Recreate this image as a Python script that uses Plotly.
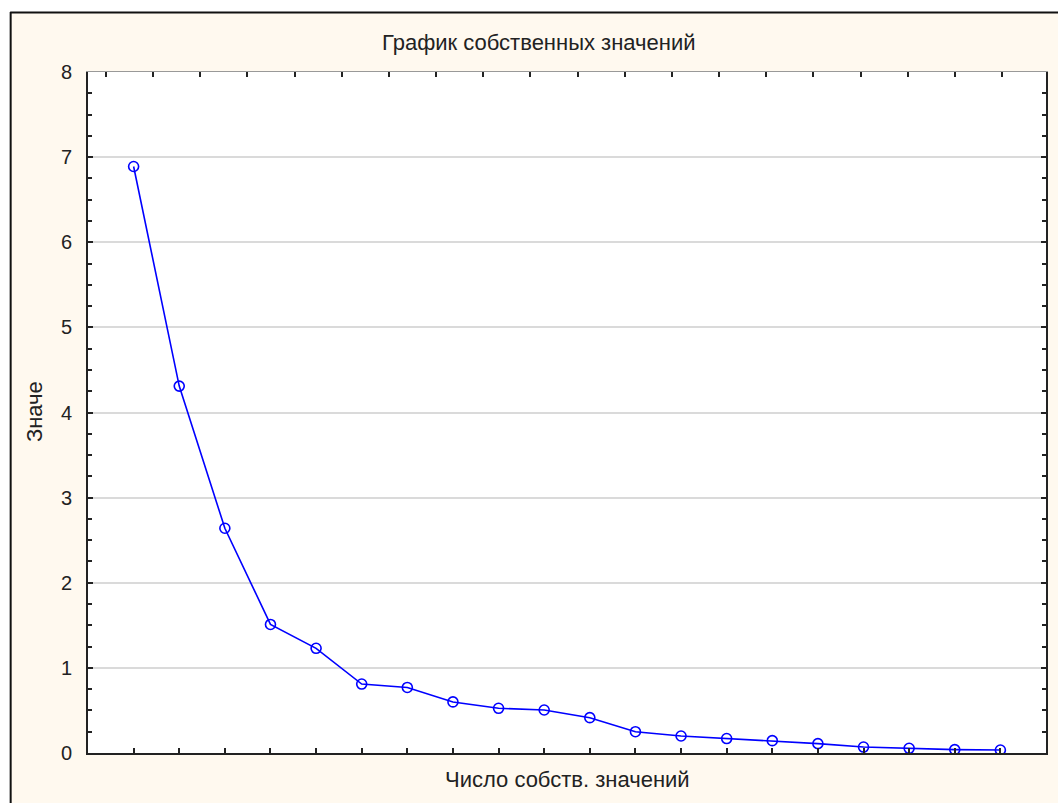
import plotly.graph_objects as go

# ---- data ----
components = list(range(1, 21))
eigenvalues = [6.89, 4.31, 2.64, 1.51, 1.23, 0.81, 0.77, 0.60, 0.525, 0.505,
               0.415, 0.25, 0.20, 0.17, 0.145, 0.11, 0.07, 0.055, 0.04, 0.035]
y_ticks = [0, 1, 2, 3, 4, 5, 6, 7, 8]
title_text = "График собственных значений"
x_title = "Число собств. значений"
y_title = "Значе"

W, H = 1058, 803
L, R, T, B = 88, 1048, 72, 753
FONT = "Liberation Sans, Arial, sans-serif"
CREAM = "#FFF9EF"


def px(p):
    return (p - L) / (R - L)


def py(p):
    return (B - p) / (B - T)


fig = go.Figure()
fig.add_trace(go.Scatter(
    x=components, y=eigenvalues, mode="lines+markers",
    line=dict(color="#0000FF", width=1.6),
    marker=dict(symbol="circle-open", size=10, color="#0000FF", line=dict(width=1.6)),
    showlegend=False, hoverinfo="x+y"))
# invisible trace to show the top axis ticks
fig.add_trace(go.Scatter(x=components, y=eigenvalues, xaxis="x2", mode="none",
                         showlegend=False, hoverinfo="skip"))

fig.update_layout(
    width=W, height=H,
    margin=dict(l=L, r=W - R, t=T, b=H - B, pad=0),
    paper_bgcolor=CREAM, plot_bgcolor="white",
    font=dict(family=FONT, size=21, color="#222222"),
    xaxis=dict(range=[0, 21], tickvals=components, showticklabels=False,
               ticks="inside", ticklen=5, tickwidth=2, tickcolor="#222",
               showgrid=False, zeroline=False, showline=True,
               linecolor="#222", linewidth=2, mirror=False),
    xaxis2=dict(overlaying="x", side="top", range=[0.619, 20.93],
                tickvals=components, showticklabels=False,
                ticks="inside", ticklen=5, tickwidth=2, tickcolor="#222",
                showgrid=False, zeroline=False, showline=True,
                linecolor="#999999", linewidth=1),
    yaxis=dict(range=[0, 8], tickvals=y_ticks, ticks="inside", ticklen=5,
               tickwidth=2, tickcolor="#222", ticklabelstandoff=10,
               showgrid=True, gridcolor="#DADADA", gridwidth=1.5,
               zeroline=False, showline=True, linecolor="#222", linewidth=2,
               mirror="ticks",
               minor=dict(dtick=0.25, ticks="inside", ticklen=4,
                          tickwidth=2, tickcolor="#222", showgrid=False),
               tickfont=dict(size=20)),
)

shapes = []
# white outside area left and top of the frame
shapes.append(dict(type="rect", xref="paper", yref="paper", layer="below",
                   x0=px(-5), x1=px(10), y0=py(H + 5), y1=py(-5),
                   fillcolor="white", line=dict(width=0)))
shapes.append(dict(type="rect", xref="paper", yref="paper", layer="below",
                   x0=px(-5), x1=px(W + 5), y0=py(12), y1=py(-5),
                   fillcolor="white", line=dict(width=0)))
# frame lines
shapes.append(dict(type="line", xref="paper", yref="paper",
                   x0=px(10.5), x1=px(10.5), y0=py(12), y1=py(H + 5),
                   line=dict(color="#111", width=2)))
shapes.append(dict(type="line", xref="paper", yref="paper",
                   x0=px(10), x1=px(W + 5), y0=py(12.5), y1=py(12.5),
                   line=dict(color="#111", width=2)))
fig.update_layout(shapes=shapes)

fig.add_annotation(text=title_text, xref="paper", yref="paper",
                   x=px(540), y=py(42), xanchor="center", yanchor="middle",
                   showarrow=False, font=dict(size=22, color="#222"))
fig.add_annotation(text=x_title, xref="paper", yref="paper",
                   x=px(568), y=py(779), xanchor="center", yanchor="middle",
                   showarrow=False, font=dict(size=22, color="#222"))
fig.add_annotation(text=y_title, xref="paper", yref="paper",
                   x=px(34), y=py(412), xanchor="center", yanchor="middle",
                   textangle=-90, showarrow=False, font=dict(size=22, color="#222"))

fig.write_html("out.html")
